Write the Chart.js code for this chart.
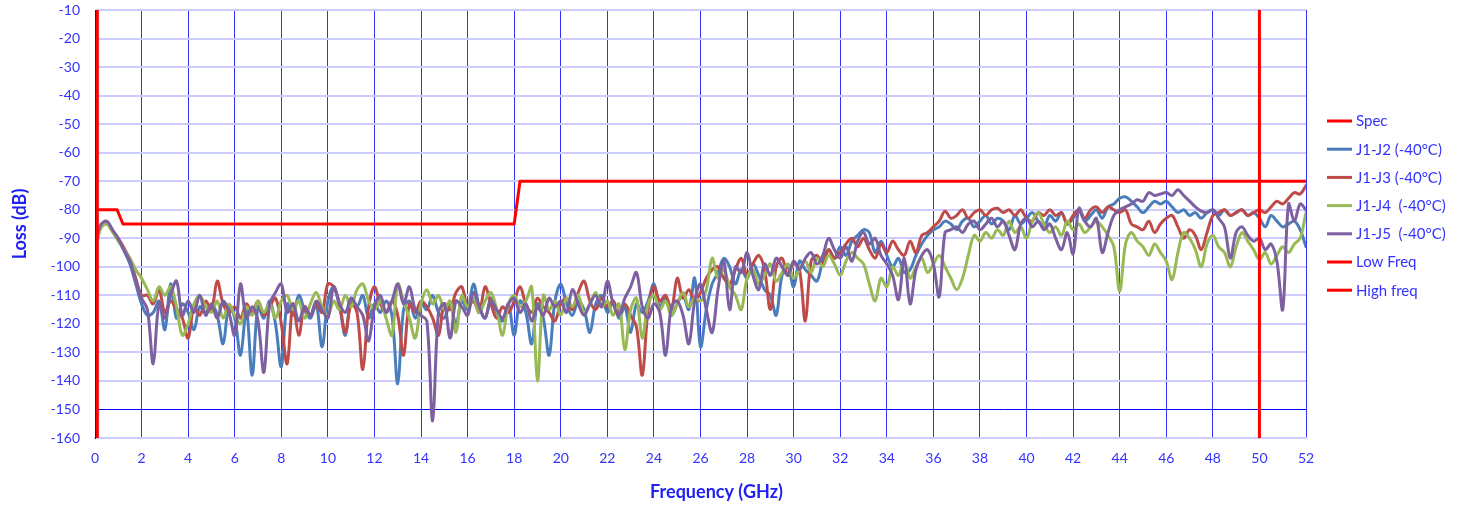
<!DOCTYPE html>
<html>
<head>
<meta charset="utf-8">
<title>Loss vs Frequency</title>
<script src="https://cdn.jsdelivr.net/npm/chart.js@4.4.1/dist/chart.umd.min.js"></script>
<style>
  html, body { margin: 0; padding: 0; background: #ffffff; }
  #wrap { width: 1459px; height: 506px; position: relative; }
</style>
</head>
<body>
<div id="wrap"><canvas id="lossChart" width="1459" height="506"></canvas></div>
<script>
// Sweep frequencies (GHz) shared by the four measured traces
const freqGHz = [
  0.1, 0.25, 0.5, 0.75, 1, 1.25, 1.5, 1.75, 2,
  2.25, 2.5, 2.75, 3, 3.25, 3.5, 3.75, 4,
  4.25, 4.5, 4.75, 5, 5.25, 5.5, 5.75, 6,
  6.25, 6.5, 6.75, 7, 7.25, 7.5, 7.75, 8,
  8.25, 8.5, 8.75, 9, 9.25, 9.5, 9.75, 10,
  10.25, 10.5, 10.75, 11, 11.25, 11.5, 11.75, 12,
  12.25, 12.5, 12.75, 13, 13.25, 13.5, 13.75, 14,
  14.25, 14.5, 14.75, 15, 15.25, 15.5, 15.75, 16,
  16.25, 16.5, 16.75, 17, 17.25, 17.5, 17.75, 18,
  18.25, 18.5, 18.75, 19, 19.25, 19.5, 19.75, 20,
  20.25, 20.5, 20.75, 21, 21.25, 21.5, 21.75, 22,
  22.25, 22.5, 22.75, 23, 23.25, 23.5, 23.75, 24,
  24.25, 24.5, 24.75, 25, 25.25, 25.5, 25.75, 26,
  26.25, 26.5, 26.75, 27, 27.25, 27.5, 27.75, 28,
  28.25, 28.5, 28.75, 29, 29.25, 29.5, 29.75, 30,
  30.25, 30.5, 30.75, 31, 31.25, 31.5, 31.75, 32,
  32.25, 32.5, 32.75, 33, 33.25, 33.5, 33.75, 34,
  34.25, 34.5, 34.75, 35, 35.25, 35.5, 35.75, 36,
  36.25, 36.5, 36.75, 37, 37.25, 37.5, 37.75, 38,
  38.25, 38.5, 38.75, 39, 39.25, 39.5, 39.75, 40,
  40.25, 40.5, 40.75, 41, 41.25, 41.5, 41.75, 42,
  42.25, 42.5, 42.75, 43, 43.25, 43.5, 43.75, 44,
  44.25, 44.5, 44.75, 45, 45.25, 45.5, 45.75, 46,
  46.25, 46.5, 46.75, 47, 47.25, 47.5, 47.75, 48,
  48.25, 48.5, 48.75, 49, 49.25, 49.5, 49.75, 50,
  50.25, 50.5, 50.75, 51, 51.25, 51.5, 51.75, 52
];

// Loss (dB), J1-J2 at -40 °C
const lossJ1J2 = [
  -89.5, -85.5, -84.2, -87.5, -90.5, -94.5, -99, -106, -113,
  -117, -116, -112, -122, -106, -118, -113, -116,
  -122, -114, -116, -113, -117, -127, -114, -118,
  -131, -115, -138, -114, -118, -112, -120, -135,
  -113, -117, -110, -115, -118, -113, -128, -112,
  -107, -114, -124, -111, -114, -110, -118, -113,
  -116, -112, -117, -141, -115, -112, -118, -113,
  -115, -110, -116, -118, -113, -120, -112, -115,
  -106, -114, -118, -111, -116, -119, -113, -124,
  -112, -116, -127, -113, -118, -131, -112, -106,
  -113, -117, -112, -115, -123, -113, -110, -116,
  -112, -118, -114, -123, -113, -116, -112, -106,
  -114, -111, -117, -113, -110, -115, -104, -128,
  -115, -106, -102, -97, -100, -106, -101, -104,
  -99, -103, -108, -110, -117, -103, -100, -107,
  -98, -101, -103, -105, -98, -94, -97, -93,
  -96, -91, -89, -87, -88, -95, -91, -96,
  -100, -97, -102, -101, -96, -92, -89, -87,
  -86, -84, -85, -87, -84, -83, -86, -84,
  -82, -85, -83, -84, -87, -82, -85, -83,
  -81, -84, -86, -82, -84, -81, -85, -83,
  -80, -84, -82, -80, -83, -79, -78, -76,
  -75.5, -77, -79, -81, -79, -77, -78, -77,
  -79, -81, -80, -82, -81, -83, -81, -80,
  -82, -80, -82, -81, -80, -82, -81, -83,
  -86, -82, -84, -86, -85, -84, -87, -93
];

// Loss (dB), J1-J3 at -40 °C
const lossJ1J3 = [
  -90, -85.8, -84.5, -87.2, -90, -93.5, -97.5, -104, -110,
  -110, -113, -108, -116, -112, -115, -118, -125,
  -114, -117, -112, -115, -105, -113, -116, -114,
  -118, -113, -116, -112, -117, -114, -111, -120,
  -134, -113, -124, -114, -117, -113, -116, -106,
  -107, -113, -123, -113, -116, -136, -114, -107,
  -113, -116, -112, -117, -131, -113, -116, -112,
  -114, -118, -124, -113, -115, -109, -107, -114,
  -112, -116, -107, -113, -118, -114, -116, -112,
  -107, -113, -116, -111, -114, -116, -119, -113,
  -111, -115, -109, -105, -112, -115, -111, -114,
  -112, -116, -113, -117, -121, -138, -115, -107,
  -112, -110, -115, -104, -111, -108, -112, -109,
  -104, -101, -100, -104, -106, -101, -97, -103,
  -99, -96, -101, -115, -100, -97, -103, -99,
  -101, -119, -98, -96, -99, -94, -97, -95,
  -92, -90, -93, -90, -94, -97, -92, -95,
  -91, -94, -96, -91, -95, -89, -88, -86,
  -84, -80.5, -83, -82, -80, -83, -81, -80,
  -82, -80, -79.5, -81, -80, -82, -80, -83,
  -84, -81, -82, -80, -82, -81, -85, -82,
  -80, -83, -80, -79, -81, -79, -80, -81,
  -80, -85, -86, -87, -84, -88, -85, -83,
  -82, -86, -90, -87, -89, -94, -88, -82,
  -81, -80, -82, -81, -80, -82, -81, -80,
  -81, -79, -77, -78, -76, -74, -74.5, -71.5
];

// Loss (dB), J1-J4 at -40 °C
const lossJ1J4 = [
  -91, -86.5, -85, -87.8, -91, -94, -97, -101, -104,
  -108, -112, -107, -110, -107, -114, -124, -120,
  -113, -110, -114, -116, -112, -118, -113, -117,
  -120, -114, -117, -112, -116, -113, -118, -112,
  -110, -115, -112, -118, -113, -109, -114, -117,
  -112, -115, -110, -114, -108, -106, -112, -115,
  -112, -118, -124, -106, -112, -118, -125, -113,
  -108, -113, -110, -115, -112, -123, -110, -114,
  -111, -116, -112, -109, -115, -124, -113, -110,
  -114, -112, -107, -140, -110, -115, -112, -117,
  -111, -114, -110, -116, -113, -109, -114, -112,
  -117, -113, -129, -115, -111, -125, -113, -110,
  -115, -112, -117, -113, -109, -114, -111, -112,
  -108, -97, -104, -101, -107, -110, -115, -104,
  -101, -106, -103, -99, -105, -102, -99, -104,
  -101, -98, -102, -97, -100, -96, -99, -103,
  -98, -95, -97, -99, -106, -112, -104, -107,
  -100, -103, -98, -104, -100, -97, -102, -99,
  -96, -100, -104, -108, -104, -96, -89, -91,
  -88, -90, -87, -89, -84, -88, -86, -90,
  -84, -81, -85, -88, -86, -89, -84, -87,
  -85, -88, -86, -84, -86, -89, -93, -108.5,
  -92, -88, -91, -93, -96, -92, -95, -98,
  -104.5, -95, -88, -90, -94, -100, -92, -89,
  -93, -95, -100, -93, -88, -91, -94, -97.5,
  -95, -99, -96, -93, -95, -92, -90, -81
];

// Loss (dB), J1-J5 at -40 °C
const lossJ1J5 = [
  -89, -85.2, -84, -87, -90.2, -94.2, -98, -105, -111,
  -115, -134, -113, -118, -110, -105, -117, -112,
  -116, -110, -117, -113, -118, -112, -116, -124,
  -106, -118, -114, -119, -137, -113, -109, -106,
  -116, -113, -119, -114, -117, -112, -115, -118,
  -107, -113, -116, -111, -114, -117, -126, -114,
  -110, -116, -112, -106, -113, -107, -115, -117,
  -119, -154, -116, -113, -125, -112, -114, -117,
  -109, -114, -118, -112, -115, -118, -113, -111,
  -116, -113, -119, -114, -117, -111, -114, -112,
  -116, -108, -113, -117, -113, -110, -114, -105,
  -113, -117, -111, -107, -102, -114, -118, -113,
  -116, -131, -114, -112, -117, -127, -112, -106,
  -115, -123, -108, -98, -115, -100, -102, -95,
  -103, -108, -99, -103, -97, -100, -103, -98,
  -101, -97, -95, -99, -96, -90, -94, -97,
  -93, -98, -91, -88, -92, -90, -96, -99,
  -103, -111.5, -97, -113, -101, -96, -94, -99,
  -110.5, -88, -87, -86, -88, -85, -84, -87,
  -85, -83, -86, -84, -89, -94, -85, -83,
  -86, -84, -87, -85, -90, -94, -88, -95.5,
  -79.5, -84, -86, -83, -95, -88, -82, -80,
  -79, -78, -76.5, -77, -74, -75, -74.5, -74,
  -75, -73, -75, -77, -79, -80.5, -81, -80,
  -83, -86, -97, -88, -86, -89, -91, -90,
  -94, -92, -98, -115, -78, -84, -78, -80
];

// Specification limit (stepped mask)
const specFreq = [0.1, 0.95, 1.2, 18.0, 18.25, 52];
const specLoss = [-80, -80, -85, -85, -70, -70];

// Band-edge markers
const lowFreqGHz = [0.1, 0.1];
const highFreqGHz = [50, 50];
const markerLoss = [-10, -160];

const seriesLabels = ['Spec', 'J1-J2 (-40°C)', 'J1-J3 (-40°C)', 'J1-J4  (-40°C)', 'J1-J5  (-40°C)', 'Low Freq', 'High freq'];
const xAxisTitle = 'Frequency (GHz)';
const yAxisTitle = 'Loss (dB)';

// ---- presentation ----
const BLUE_TEXT = '#3333FF';
const AXIS_TITLE = '#2020F0';
const FONT = 'Lato, "Open Sans", "DejaVu Sans", sans-serif';

const toPoints = (xs, ys) => xs.map((x, i) => ({ x: x, y: ys[i] }));

function lineSet(label, xs, ys, color, width, order, tension) {
  return {
    label: label,
    data: toPoints(xs, ys),
    borderColor: color,
    backgroundColor: color,
    borderWidth: width,
    pointRadius: 0,
    pointHoverRadius: 0,
    fill: false,
    tension: tension,
    order: order,
    borderJoinStyle: 'round',
    borderCapStyle: 'round'
  };
}

// Legend drawn in the right margin, one row per dataset
const sideLegend = {
  id: 'sideLegend',
  afterDraw(chart, args, opts) {
    const { ctx, chartArea } = chart;
    const x0 = chartArea.right + opts.offsetX;
    ctx.save();
    ctx.font = opts.font;
    ctx.textBaseline = 'middle';
    ctx.textAlign = 'left';
    chart.data.datasets.forEach((ds, i) => {
      const y = opts.top + i * opts.rowHeight;
      ctx.strokeStyle = ds.borderColor;
      ctx.lineWidth = 3;
      ctx.lineCap = 'butt';
      ctx.beginPath();
      ctx.moveTo(x0, y);
      ctx.lineTo(x0 + opts.sampleWidth, y);
      ctx.stroke();
      ctx.fillStyle = opts.color;
      ctx.fillText(ds.label, x0 + opts.sampleWidth + opts.gap, y + 0.5);
    });
    ctx.restore();
  }
};

// Horizontal axis title, centred a little right of the plot centre
const bottomTitle = {
  id: 'bottomTitle',
  afterDraw(chart, args, opts) {
    const { ctx, chartArea } = chart;
    ctx.save();
    ctx.font = opts.font;
    ctx.fillStyle = opts.color;
    ctx.textAlign = 'center';
    ctx.textBaseline = 'middle';
    ctx.fillText(opts.text, (chartArea.left + chartArea.right) / 2 + opts.shiftX, opts.y);
    ctx.restore();
  }
};

const chart = new Chart(document.getElementById('lossChart'), {
  type: 'line',
  data: {
    datasets: [
      lineSet(seriesLabels[0], specFreq, specLoss, '#FF0000', 3, 7, 0),
      lineSet(seriesLabels[1], freqGHz, lossJ1J2, '#4A7EBB', 3, 6, 0.35),
      lineSet(seriesLabels[2], freqGHz, lossJ1J3, '#BE4B48', 3, 5, 0.35),
      lineSet(seriesLabels[3], freqGHz, lossJ1J4, '#98B954', 3, 4, 0.35),
      lineSet(seriesLabels[4], freqGHz, lossJ1J5, '#7D60A0', 3, 3, 0.35),
      lineSet(seriesLabels[5], lowFreqGHz, markerLoss, '#FF0000', 3, 2, 0),
      lineSet(seriesLabels[6], highFreqGHz, markerLoss, '#FF0000', 3, 1, 0)
    ]
  },
  options: {
    responsive: false,
    animation: false,
    devicePixelRatio: 1,
    layout: { padding: { left: 0, top: 10, right: 153, bottom: 0 } },
    plugins: {
      legend: { display: false },
      tooltip: { enabled: false },
      sideLegend: {
        offsetX: 21,
        top: 121,
        rowHeight: 28.2,
        sampleWidth: 25,
        gap: 4,
        font: '15px ' + FONT,
        color: BLUE_TEXT
      },
      bottomTitle: {
        text: xAxisTitle,
        font: 'bold 18px ' + FONT,
        color: AXIS_TITLE,
        shiftX: 16,
        y: 492
      }
    },
    scales: {
      x: {
        type: 'linear',
        min: 0,
        max: 52,
        border: { display: true, color: '#CCCCFF', width: 2 },
        grid: {
          color: 'rgba(0, 0, 255, 0.8)',
          lineWidth: 1,
          drawTicks: false
        },
        ticks: {
          stepSize: 2,
          padding: 12,
          color: BLUE_TEXT,
          font: { family: FONT, size: 14 },
          maxRotation: 0,
          autoSkip: false
        },
        afterFit(scale) { scale.height = 68; scale.paddingTop = 0; scale.paddingBottom = 0; }
      },
      y: {
        type: 'linear',
        min: -160,
        max: -10,
        border: { display: true, color: '#0000FF', width: 1 },
        grid: {
          color: (c) => (c.tick && c.tick.value === -150) ? '#0000FF' : '#CCCCFF',
          lineWidth: (c) => (c.tick && c.tick.value === -150) ? 1 : 2,
          drawTicks: false
        },
        ticks: {
          stepSize: 10,
          padding: 15,
          color: BLUE_TEXT,
          font: { family: FONT, size: 14 }
        },
        title: {
          display: true,
          text: yAxisTitle,
          color: AXIS_TITLE,
          font: { family: FONT, size: 18, weight: 'bold' },
          padding: { top: 9, bottom: 0 }
        },
        afterFit(scale) { scale.width = 95; scale.paddingTop = 0; scale.paddingBottom = 0; }
      }
    }
  },
  plugins: [sideLegend, bottomTitle]
});
</script>
</body>
</html>
